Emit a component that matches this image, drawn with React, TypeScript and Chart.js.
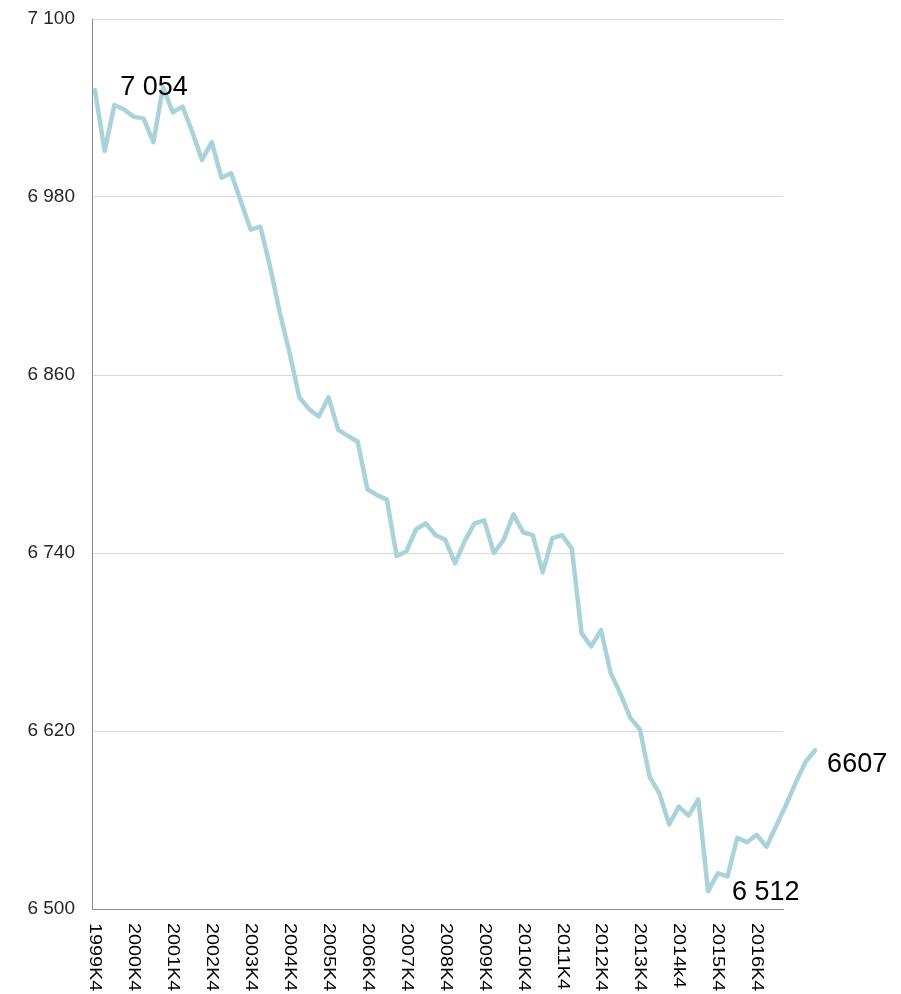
import React, { useEffect, useRef } from "react";
import { Chart, registerables } from "chart.js";

Chart.register(...registerables);

// Quarterly categories 1999K4 .. 2018K2
const quarters: string[] = [];
for (let y = 1999, q = 4; quarters.length < 75; ) {
  quarters.push(`${y}K${q}`);
  q++;
  if (q > 4) { q = 1; y++; }
}

const values: number[] = [
  7052, 7011, 7042, 7039, 7034, 7033, 7017, 7054, 7037, 7041,
  7024, 7005, 7017, 6993, 6996, 6977, 6958, 6960, 6933, 6902,
  6875, 6845, 6837, 6832, 6845, 6823, 6819, 6815, 6783, 6779,
  6776, 6738, 6741, 6756, 6760, 6752, 6749, 6733, 6748, 6760,
  6762, 6740, 6749, 6766, 6754, 6752, 6727, 6750, 6752, 6743,
  6686, 6677, 6688, 6659, 6645, 6629, 6621, 6589, 6578, 6557,
  6569, 6563, 6574, 6512, 6524, 6522, 6548, 6545, 6550, 6542,
  6556, 6570, 6585, 6599, 6607,
];

const xTickLabels: string[] = [
  "1999K4", "2000K4", "2001K4", "2002K4", "2003K4", "2004K4",
  "2005K4", "2006K4", "2007K4", "2008K4", "2009K4", "2010K4",
  "2011K4", "2012K4", "2013K4", "2014k4", "2015K4", "2016K4",
];

const yMin = 6500;
const yMax = 7100;
const yStep = 120;

const annotationTexts: { label: string; text: string }[] = [
  { label: "2001K3", text: "7 054" },
  { label: "2015K3", text: "6 512" },
  { label: "2018K2", text: "6607" },
];

const fmt = (v: number) =>
  Math.round(v).toString().replace(/\B(?=(\d{3})+(?!\d))/g, " ");

export default function App() {
  const ref = useRef<HTMLCanvasElement | null>(null);

  useEffect(() => {
    if (!ref.current) return;
    const font = "Arial, 'Liberation Sans', sans-serif";

    const overlay = {
      id: "overlay",
      afterDraw(chart: any) {
        const ctx = chart.ctx as CanvasRenderingContext2D;
        const xs = chart.scales.x;
        const ys = chart.scales.y;
        // x tick labels, rotated clockwise
        ctx.save();
        ctx.fillStyle = "#000";
        ctx.font = `16.5px ${font}`;
        ctx.textAlign = "left";
        ctx.textBaseline = "middle";
        xTickLabels.forEach((lab) => {
          const idx = quarters.indexOf(lab.toUpperCase());
          const px = xs.getPixelForValue(idx);
          ctx.save();
          ctx.translate(px, chart.chartArea.bottom + 14);
          ctx.rotate(Math.PI / 2);
          ctx.scale(1.2, 1);
          ctx.fillText(lab, 0, 0);
          ctx.restore();
        });
        ctx.restore();

        // value annotations
        ctx.save();
        ctx.fillStyle = "#000";
        ctx.font = `27px ${font}`;
        ctx.textBaseline = "middle";
        annotationTexts.forEach((a, k) => {
          const idx = quarters.indexOf(a.label);
          const px = xs.getPixelForValue(idx);
          const py = ys.getPixelForValue(values[idx]);
          if (k === 0) {
            ctx.textAlign = "center";
            ctx.fillText(a.text, px - 9, py);
          } else if (k === 1) {
            ctx.textAlign = "left";
            ctx.fillText(a.text, px + 24, py + 1);
          } else {
            ctx.textAlign = "left";
            ctx.fillText(a.text, px + 12, py + 14);
          }
        });
        ctx.restore();
      },
    };

    // points listed last-to-first so the line is drawn in full, past the axis end
    const points = values.map((v, i) => ({ x: i, y: v })).reverse();

    const chart = new Chart(ref.current, {
      type: "line",
      data: {
        datasets: [
          {
            data: points,
            borderColor: "#A9D3D8",
            borderWidth: 4.5,
            pointRadius: 0,
            tension: 0,
            borderJoinStyle: "round",
            borderCapStyle: "round",
            clip: false as any,
          },
        ],
      },
      options: {
        animation: false,
        responsive: false,
        layout: { padding: { left: 0, right: 118, top: 19, bottom: 0 } },
        plugins: { legend: { display: false }, tooltip: { enabled: false } },
        scales: {
          x: {
            type: "linear",
            min: -0.3,
            max: 70.7,
            grid: { display: false },
            border: { display: true, color: "#8a8a8a", width: 1 },
            ticks: { display: false },
            afterFit: (s: any) => { s.height = 85; },
          },
          y: {
            min: yMin,
            max: yMax,
            grid: { color: "#D9D9D9", drawTicks: false, lineWidth: 1 },
            border: { display: true, color: "#8a8a8a", width: 1 },
            ticks: {
              stepSize: yStep,
              padding: 17,
              color: "#262626",
              font: { family: font, size: 19 },
              callback: (v: any) => fmt(Number(v)),
            },
            afterFit: (s: any) => {
              s.width = 92;
              s.paddingTop = 10;
              s.paddingBottom = 10;
            },
          },
        },
      },
      plugins: [overlay],
    });
    return () => chart.destroy();
  }, []);

  return (
    <div style={{ position: "absolute", left: 0, top: 0, width: 901, height: 994, background: "#fff" }}>
      <canvas ref={ref} width={901} height={994} style={{ width: 901, height: 994 }} />
    </div>
  );
}
